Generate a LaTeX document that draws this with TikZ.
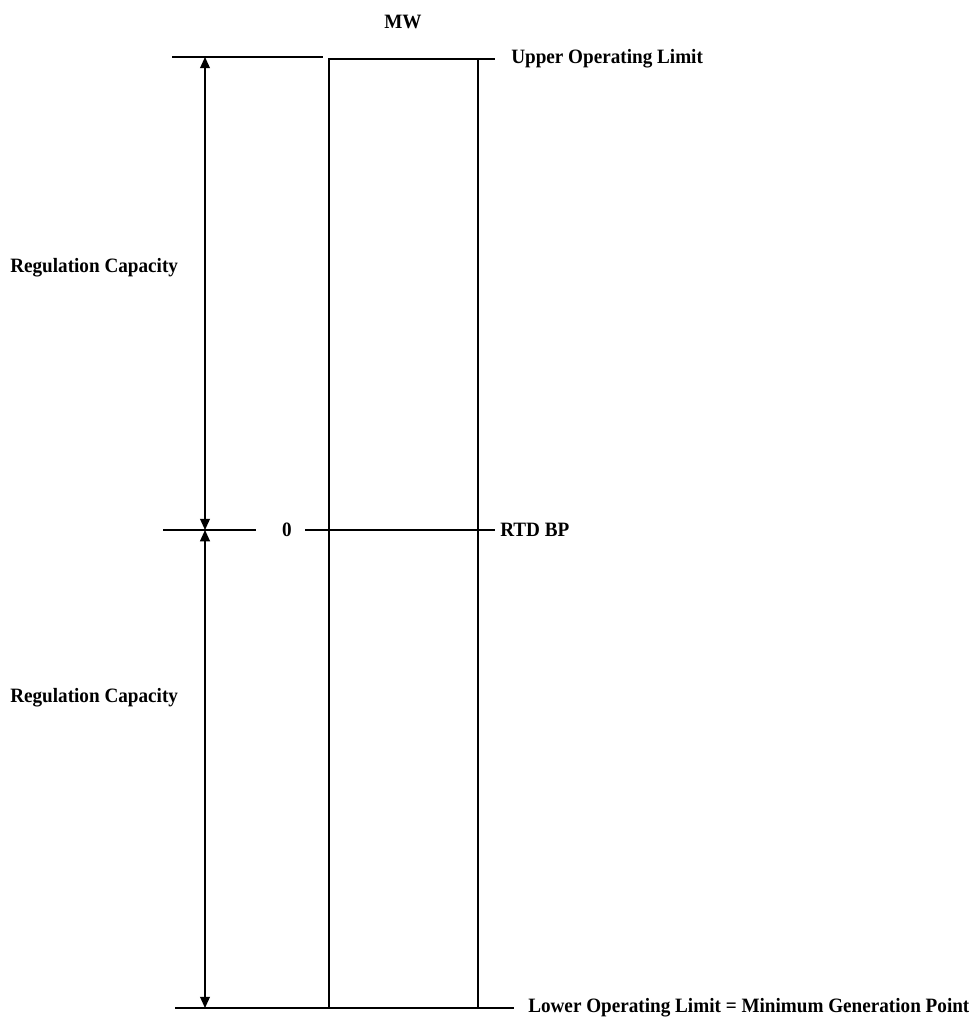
\documentclass[tikz,border=0pt]{standalone}
\usepackage{fontspec}
\setmainfont{Liberation Serif}
\newfontfamily\lblfont[FakeStretch=0.94]{Liberation Serif}
\usetikzlibrary{positioning, arrows.meta, calc}

\begin{document}
\begin{tikzpicture}[
                x=0.025cm, y=-0.025cm,
                bar/.style={
                    draw=black,
                    line width=2pt
                },
                level/.style={
                    draw=black,
                    line width=1pt
                },
                dimline/.style={
                    draw=black,
                    line width=1pt,
                    {Triangle[length=8pt,width=7pt]}-{Triangle[length=8pt,width=7pt]}
                },
                lbl/.style={
                    font=\lblfont\fontsize{14.5}{16}\selectfont\bfseries,
                    inner sep=0pt,
                    text=black
                }
            ]

            \useasboundingbox (0,0) rectangle (975,1023);

            % --- Saeule (MW-Bereich) ---
            \coordinate (boxTL) at (329,59);
            \coordinate (boxBR) at (478,1008);
            \draw[bar] (boxTL) rectangle (boxBR);

            \node[lbl] (mw) at (403,22) {MW};

            % --- Obere Grenze ---
            \coordinate (upL) at (172,57);
            \coordinate (upR) at (323,57);
            \coordinate (upTick) at (495,59);
            \draw[level] (upL) -- (upR);
            \draw[level] (boxBR |- boxTL) -- (upTick);
            \node[lbl, anchor=west] (upper) at (511,59) {Upper Operating Limit};

            % --- Arbeitspunkt (RTD BP) ---
            \coordinate (midL) at (163,530);
            \coordinate (midLR) at (256,530);
            \coordinate (midA) at (305,530);
            \coordinate (midB) at (495,530);
            \draw[level] (midL) -- (midLR);
            \node[lbl] (zero) at (287,530) {0};
            \draw[level] (midA) -- (midB);
            \node[lbl, anchor=west] (rtdbp) at (500,530) {RTD BP};

            % --- Untere Grenze ---
            \coordinate (lowL) at (175,1008);
            \coordinate (lowR) at (514,1008);
            \draw[level] (lowL) -- (lowR);
            \node[lbl, anchor=west] (lower) at (528,1008) {Lower Operating Limit = Minimum Generation Point};

            % --- Bemassung ---
            \coordinate (dimTop) at (205,57);
            \coordinate (dimMid) at (205,530);
            \coordinate (dimBot) at (205,1008);
            \draw[dimline] (dimTop) -- (dimMid);
            \draw[dimline] (dimMid) -- (dimBot);

            \node[lbl, anchor=west] (regUp) at (10,268) {Regulation Capacity};
            \node[lbl, anchor=west] (regDown) at (10,698) {Regulation Capacity};

        \end{tikzpicture}
\end{document}
